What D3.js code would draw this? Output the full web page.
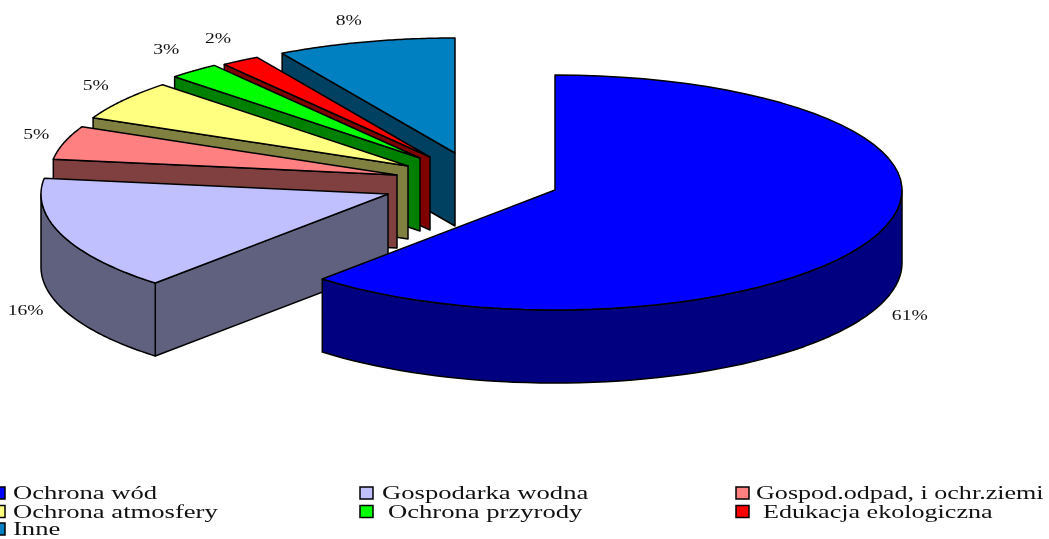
<!DOCTYPE html>
<html>
<meta charset="utf-8">
<script src="https://d3js.org/d3.v7.min.js"></script>
<style>
  html, body { margin: 0; padding: 0; background: #fff; overflow: hidden; }
  svg { display: block; filter: blur(0.5px); }
  text { font-family: "Liberation Serif", serif; fill: #111; }
</style>
<body>
<script>
const categories = ["Ochrona wód", "Gospodarka wodna", "Gospod.odpad, i ochr.ziemi", "Ochrona atmosfery", "Ochrona przyrody", "Edukacja ekologiczna", "Inne"];
const values = [61.7, 15.5, 4.7, 5.6, 2.4, 1.8, 8.3];
const valueLabels = ["61%", "16%", "5%", "5%", "3%", "2%", "8%"];
const topColors = ["#0000ff", "#c0c0ff", "#ff8080", "#ffff80", "#00ff00", "#ff0000", "#0080c0"];
const wallColors = ["#000080", "#60607f", "#804040", "#808040", "#008000", "#800000", "#004060"];

// where each exploded slice has its apex
const apexX = [555, 388, 397, 408, 420, 430, 455];
const apexY = [190, 194, 175, 166, 158, 157, 153];
// small nudges for the value labels
const labelDx = [3, -8, 7, 3, -2, 0, -3];
const labelDy = [2, -4, 0, 0, -2, -1, 3];

const width = 1049, height = 539;
const rx = 347, ryBack = 115, ryFront = 120, depth = 73;

const svg = d3.select("body").append("svg")
  .attr("width", width)
  .attr("height", height);

const pie = d3.pie().sort(null).value(d => d)(values);

const px = (i, a) => apexX[i] + rx * Math.sin(a);
const py = (i, a) => {
  const c = Math.cos(a);
  return apexY[i] - c * (c > 0 ? ryBack : ryFront);
};

const line = d3.line();
const arcPoints = (i, a0, a1, dy = 0) =>
  d3.range(0, 61).map(k => {
    const a = a0 + (a1 - a0) * k / 60;
    return [px(i, a), py(i, a) + dy];
  });

// back slices first, blue one goes on top
const order = [6, 5, 4, 3, 2, 1, 0];
order.forEach(i => {
  const s = pie[i];
  const g = svg.append("g")
    .attr("stroke", "#000")
    .attr("stroke-width", 1.5)
    .attr("stroke-linejoin", "round");

  // radial wall
  if (s.startAngle > Math.PI) {
    const p = [px(i, s.startAngle), py(i, s.startAngle)];
    g.append("path")
      .attr("fill", wallColors[i])
      .attr("d", line([[apexX[i], apexY[i]], p, [p[0], p[1] + depth], [apexX[i], apexY[i] + depth]]) + "Z");
  }

  // outer wall, only the front half shows
  const w0 = Math.max(s.startAngle, Math.PI / 2);
  const w1 = Math.min(s.endAngle, Math.PI * 1.5);
  if (w1 > w0) {
    const up = arcPoints(i, w0, w1);
    const down = arcPoints(i, w1, w0, depth);
    g.append("path")
      .attr("fill", wallColors[i])
      .attr("d", line(up.concat(down)) + "Z");
  }

  // top
  g.append("path")
    .attr("fill", topColors[i])
    .attr("d", line([[apexX[i], apexY[i]]].concat(arcPoints(i, s.startAngle, s.endAngle))) + "Z");
});

// value labels
pie.forEach((s, i) => {
  const mid = (s.startAngle + s.endAngle) / 2;
  const c = Math.cos(mid);
  const lx = px(i, mid) + Math.sin(mid) * 30 - (c > 0 ? 6 : 0) + labelDx[i];
  const ly = py(i, mid) - c * 24 + (c < 0 ? depth : 0) + labelDy[i];
  svg.append("text")
    .attr("text-anchor", "middle")
    .attr("dominant-baseline", "middle")
    .attr("transform", `translate(${lx},${ly}) scale(1.4,1)`)
    .attr("font-size", 14)
    .text(valueLabels[i]);
});

// legend, three columns
const legendSwatchX = [-8, 360, 736];
const legendTextX = [[13, 382, 756], [13, 388, 763], [13]];
const legendScale = [1.48, 1.48, 1.45];
const legendBase = [499, 517.5, 535];

categories.forEach((name, i) => {
  const row = Math.floor(i / 3), col = i % 3;
  svg.append("rect")
    .attr("x", legendSwatchX[col])
    .attr("y", legendBase[row] - 12)
    .attr("width", 13)
    .attr("height", 12)
    .attr("fill", topColors[i])
    .attr("stroke", "#000")
    .attr("stroke-width", 1.5);
  svg.append("text")
    .attr("transform", `translate(${legendTextX[row][col]},${legendBase[row]}) scale(${legendScale[col]},1)`)
    .attr("font-size", 18)
    .text(name);
});
</script>
</body>
</html>
